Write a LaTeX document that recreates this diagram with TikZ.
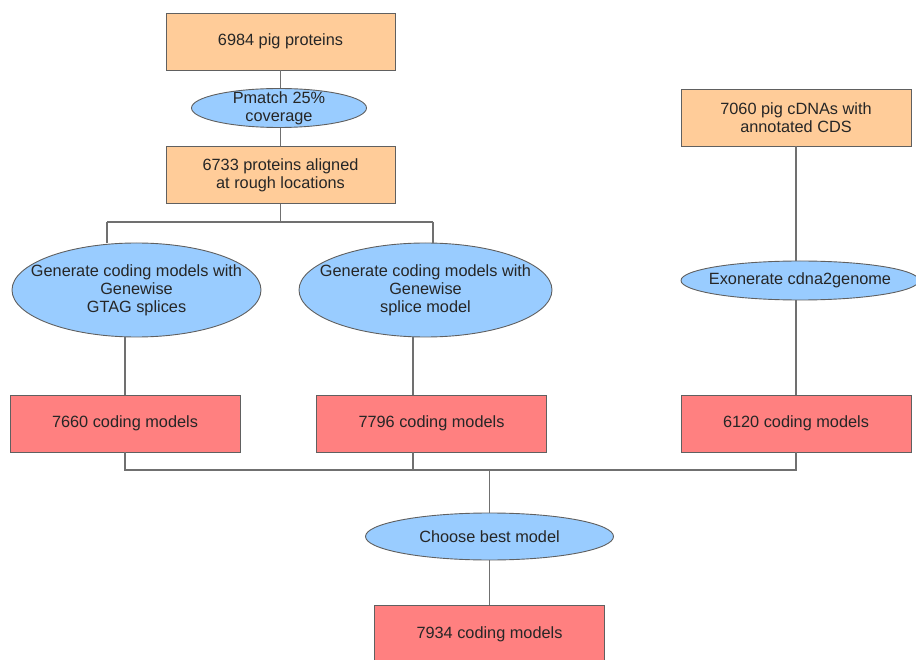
\documentclass[tikz,border=0pt]{standalone}
\usepackage{fontspec}
\setmainfont{Liberation Sans}
\usetikzlibrary{shapes.geometric}
\definecolor{orangefill}{HTML}{FFCC99}
\definecolor{bluefill}{HTML}{99CCFF}
\definecolor{redfill}{HTML}{FF8080}
\definecolor{edgegray}{HTML}{606060}
\definecolor{linegray}{HTML}{707070}
\begin{document}
\begin{tikzpicture}[x=1pt,y=-1pt,
  every node/.style={font=\fontsize{16.3}{18}\selectfont, text=black!85, align=center, inner sep=0pt},
  obox/.style={draw=edgegray, line width=0.9pt, fill=orangefill, rectangle, minimum width=229pt, minimum height=57pt},
  rbox/.style={draw=edgegray, line width=0.9pt, fill=redfill, rectangle, minimum width=230pt, minimum height=57pt},
  proc/.style={draw=edgegray, line width=0.9pt, fill=bluefill, ellipse},
  conn/.style={draw=linegray, line width=1.1pt}]
\useasboundingbox (0,0) rectangle (916,660);
% nodes
\node[obox] (pig) at (280.5,41.5) {6984 pig proteins};
\node[proc, minimum width=175pt, minimum height=39pt] (pm) at (279,108) {};
\node (pmt) at (pm.center) {Pmatch 25\%\\coverage};
\node[obox] (aln) at (280.5,175) {6733 proteins aligned\\at rough locations};
\node[proc, minimum width=249pt, minimum height=94pt] (gw1) at (136.5,290) {};
\node (gw1t) at (gw1.center) {Generate coding models with\\Genewise\\GTAG splices};
\node[proc, minimum width=253pt, minimum height=94pt] (gw2) at (425.5,290) {};
\node (gw2t) at (gw2.center) {Generate coding models with\\Genewise\\splice model};
\node[obox, minimum width=230pt] (cdna) at (796,117.5) {7060 pig cDNAs with\\annotated CDS};
\node[proc, minimum width=238pt, minimum height=39pt] (exo) at (800,280.5) {};
\node (exot) at (exo.center) {Exonerate cdna2genome};
\node[rbox] (m1) at (125,423.5) {7660 coding models};
\node[rbox] (m2) at (431.5,423.5) {7796 coding models};
\node[rbox] (m3) at (796,423.5) {6120 coding models};
\node[proc, minimum width=248pt, minimum height=47pt] (best) at (489.5,536.5) {};
\node (bestt) at (best.center) {Choose best model};
\node[rbox] (fin) at (489.5,634) {7934 coding models};
% junction coordinates
\coordinate (s) at (280.5,222);
\coordinate (sl) at (107,222);
\coordinate (sr) at (433,222);
\coordinate (j) at (489.5,470);
\coordinate (jl) at (125,470);
\coordinate (jm) at (413,470);
\coordinate (jr) at (796,470);
% connectors
\draw[conn] (pig.south) -- (pig.south |- pm.north);
\draw[conn] (aln.north |- pm.south) -- (aln.north);
\draw[conn] (aln.south) -- (s);
\draw[conn] (sl) -- (sr);
\draw[conn] (sl) -- (sl |- gw1.north);
\draw[conn] (sr) -- (sr |- gw2.north);
\draw[conn] (m1.north) -- (m1.north |- gw1.south);
\draw[conn] (jm |- m2.north) -- (jm |- gw2.south);
\draw[conn] (cdna.south) -- (cdna.south |- exo.north);
\draw[conn] (m3.north) -- (m3.north |- exo.south);
\draw[conn] (m1.south) -- (jl) -- (jr) -- (m3.south);
\draw[conn] (jm |- m2.south) -- (jm);
\draw[conn] (j) -- (best.north);
\draw[conn] (best.south) -- (fin.north);
\end{tikzpicture}
\end{document}
